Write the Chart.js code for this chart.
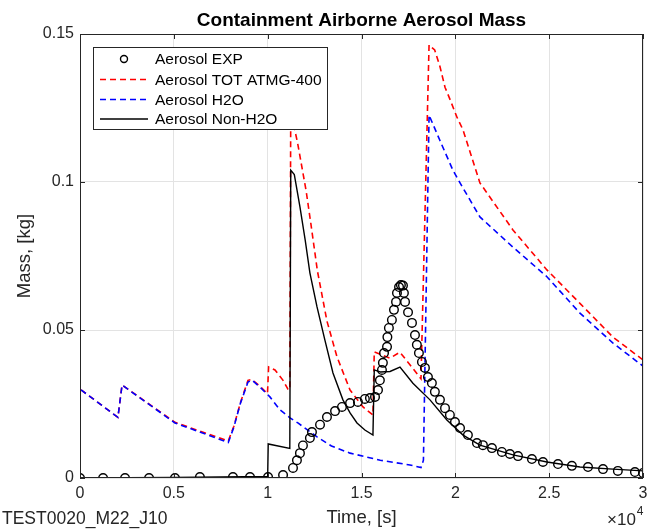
<!DOCTYPE html>
<html>
<head>
<meta charset="utf-8">
<title>Containment Airborne Aerosol Mass</title>
<script src="https://cdn.jsdelivr.net/npm/chart.js@4.4.1/dist/chart.umd.min.js"></script>
<style>
  html, body { margin: 0; padding: 0; background: #fff; }
</style>
</head>
<body>
<canvas id="chart" width="660" height="529"></canvas>
<script>
//-------------------Data-------------------
// time in s, mass in kg
const expTime = [0, 1230, 2400, 3680, 5060, 6390, 8150, 9060, 10020, 10820,
  11350, 11560, 11720, 11880, 12250, 12360, 12790, 13160, 13590, 13960,
  14390, 14810, 15180, 15450, 15720, 15880, 15980, 16090, 16140, 16200,
  16360, 16380, 16460, 16620, 16730, 16840, 16890, 17000, 17100, 17210,
  17260, 17320, 17480, 17690, 17850, 17950, 18060, 18220, 18380, 18540,
  18750, 18910, 19180, 19450, 19710, 19980, 20250, 20670, 21150, 21470,
  21950, 22480, 22910, 23340, 24080, 24670, 25470, 26210, 27070, 27870,
  28660, 29570, 30000];
const expMass = [0, 0, 0, 0, 0, 0.0003, 0.0003, 0.0003, 0.0003, 0.001,
  0.0034, 0.006, 0.0084, 0.011, 0.0135, 0.0155, 0.018, 0.0206, 0.0226, 0.024,
  0.0253, 0.0257, 0.0267, 0.027, 0.0274, 0.0297, 0.033, 0.0365, 0.0389, 0.0422,
  0.0443, 0.0476, 0.0507, 0.0534, 0.0568, 0.0595, 0.0625, 0.0645, 0.0652, 0.065,
  0.0625, 0.0595, 0.056, 0.0524, 0.0483, 0.045, 0.0422, 0.0392, 0.0372, 0.0341,
  0.0321, 0.0291, 0.0264, 0.0236, 0.0213, 0.0189, 0.0169, 0.0145, 0.0118, 0.0111,
  0.0101, 0.0088, 0.0081, 0.0074, 0.0064, 0.0054, 0.0047, 0.0041, 0.0037, 0.003,
  0.0024, 0.002, 0.0017];

const totTime = [0, 5, 2020, 2240, 5060, 7900, 8200, 8550, 8950, 9160,
  9590, 9990, 10050, 10390, 10820, 11080, 11180, 11230, 11600, 12050,
  12300, 12650, 13160, 13690, 14390, 15080, 15610, 15680, 16520, 17050,
  17740, 18170, 18600, 18900, 19180, 19450, 19710, 20080, 20410, 21310,
  23070, 24880, 26640, 28400, 30000];
const totMass = [0, 0.03, 0.0205, 0.0314, 0.0188, 0.0125, 0.0175, 0.0255, 0.033, 0.0333,
  0.031, 0.0285, 0.0375, 0.0365, 0.033, 0.03, 0.0298, 0.124, 0.113, 0.097,
  0.086, 0.07, 0.053, 0.041, 0.0297, 0.024, 0.0213, 0.0426, 0.0405, 0.0425,
  0.037, 0.0335, 0.1463, 0.1446, 0.139, 0.132, 0.128, 0.122, 0.1176, 0.0997,
  0.0838, 0.0703, 0.059, 0.0476, 0.0399];

const h2oTime = [0, 5, 2020, 2240, 5060, 7900, 8200, 8550, 8950, 9160,
  9590, 10120, 10660, 11190, 11610, 12630, 13400, 14390, 16000, 17580,
  18170, 18300, 18600, 19180, 19870, 20250, 21310, 23070, 24880, 26640,
  28400, 30000];
const h2oMass = [0, 0.03, 0.0205, 0.0314, 0.0186, 0.012, 0.0172, 0.0253, 0.0324, 0.0331,
  0.0307, 0.0274, 0.023, 0.0203, 0.0186, 0.0139, 0.0108, 0.0084, 0.006, 0.0044,
  0.0035, 0.006, 0.1226, 0.114, 0.104, 0.0997, 0.0882, 0.078, 0.068, 0.0557,
  0.0456, 0.0378];

const nonTime = [0, 5000, 10000, 10030, 11180, 11230, 11420, 11720, 12000, 12250,
  12630, 13050, 13480, 14010, 14390, 14760, 15180, 15610, 15680, 16000,
  16520, 17050, 17740, 18650, 19550, 20410, 21310, 23070, 24880, 26640,
  28400, 30000];
const nonMass = [0, 0.0002, 0.0005, 0.0115, 0.01, 0.104, 0.1025, 0.0916, 0.0804, 0.0693,
  0.0578, 0.0466, 0.0355, 0.0264, 0.022, 0.0186, 0.0162, 0.0145, 0.0365, 0.0358,
  0.036, 0.0375, 0.032, 0.0264, 0.0196, 0.0145, 0.0111, 0.0078, 0.0054, 0.0037,
  0.003, 0.0024];

const xTicks = [0, 5000, 10000, 15000, 20000, 25000, 30000];
const xTickLabels = ['0', '0.5', '1', '1.5', '2', '2.5', '3'];
const yTicks = [0, 0.05, 0.1, 0.15];
const yTickLabels = ['0', '0.05', '0.1', '0.15'];

const legendNames = ['Aerosol EXP', 'Aerosol TOT ATMG-400', 'Aerosol H2O', 'Aerosol Non-H2O'];

//-------------------Helpers-------------------
function pts(xs, ys) {
  return xs.map((x, i) => ({ x: x, y: ys[i] }));
}

const FONT = '"Liberation Sans", Arial, Helvetica, sans-serif';
const AXIS_COLOR = '#262626';

// box, inward ticks, title, legend and extra labels (MATLAB look)
const matlabDecor = {
  id: 'matlabDecor',
  afterDatasetsDraw(chart) {
    const ctx = chart.ctx;
    const a = chart.chartArea;
    const xs = chart.scales.x;
    const ys = chart.scales.y;
    ctx.save();

    // axes box
    ctx.strokeStyle = AXIS_COLOR;
    ctx.lineWidth = 1;
    ctx.strokeRect(a.left + 0.5, a.top + 0.5, a.right - a.left - 1, a.bottom - a.top - 1);

    // inward tick marks
    const tl = 5;
    ctx.beginPath();
    xTicks.forEach(v => {
      const px = Math.round(xs.getPixelForValue(v)) + 0.5;
      ctx.moveTo(px, a.bottom); ctx.lineTo(px, a.bottom - tl);
      ctx.moveTo(px, a.top); ctx.lineTo(px, a.top + tl);
    });
    yTicks.forEach(v => {
      const py = Math.round(ys.getPixelForValue(v)) + 0.5;
      ctx.moveTo(a.left, py); ctx.lineTo(a.left + tl, py);
      ctx.moveTo(a.right, py); ctx.lineTo(a.right - tl, py);
    });
    ctx.stroke();

    // legend
    const lx = 93.5, ly = 47.5, lw = 234, lh = 82;
    ctx.fillStyle = '#fff';
    ctx.fillRect(lx, ly, lw, lh);
    ctx.strokeStyle = AXIS_COLOR;
    ctx.strokeRect(lx, ly, lw, lh);
    const rows = [59, 79.5, 99.5, 119];
    ctx.font = '15.5px ' + FONT;
    ctx.textBaseline = 'middle';
    ctx.textAlign = 'left';
    chart.data.datasets.forEach((ds, i) => {
      const y = rows[i];
      if (ds.showLine === false) {
        ctx.beginPath();
        ctx.lineWidth = 1.4;
        ctx.strokeStyle = ds.borderColor;
        ctx.arc(124, y, 3.5, 0, Math.PI * 2);
        ctx.stroke();
      } else {
        ctx.beginPath();
        ctx.lineWidth = ds.borderWidth;
        ctx.strokeStyle = ds.borderColor;
        ctx.setLineDash(ds.borderDash || []);
        ctx.moveTo(100, y);
        ctx.lineTo(148, y);
        ctx.stroke();
        ctx.setLineDash([]);
      }
      ctx.fillStyle = '#000';
      ctx.fillText(legendNames[i], 155, y + 1);
    });

    // title
    ctx.font = 'bold 19px ' + FONT;
    ctx.textAlign = 'center';
    ctx.fillStyle = '#000';
    ctx.fillText('Containment Airborne Aerosol Mass', (a.left + a.right) / 2, 21);

    // run label and exponent
    ctx.font = '17.5px ' + FONT;
    ctx.textAlign = 'left';
    ctx.fillStyle = '#262626';
    ctx.fillText('TEST0020_M22_J10', 2, 519);
    ctx.font = '17px ' + FONT;
    const base = '\u00d710';
    const bx = 607;
    ctx.fillText(base, bx, 520);
    const bw = ctx.measureText(base).width;
    ctx.font = '12px ' + FONT;
    ctx.fillText('4', bx + bw + 1, 512);

    ctx.restore();
  }
};

//-------------------Chart-------------------
const ctx = document.getElementById('chart').getContext('2d');
const chart = new Chart(ctx, {
  type: 'line',
  data: {
    datasets: [
      {
        label: legendNames[0],
        data: pts(expTime, expMass),
        showLine: false,
        pointStyle: 'circle',
        pointRadius: 4.3,
        pointBorderWidth: 1.4,
        pointBackgroundColor: 'rgba(0,0,0,0)',
        borderColor: '#000',
        pointBorderColor: '#000',
        order: 0
      },
      {
        label: legendNames[1],
        data: pts(totTime, totMass),
        borderColor: '#ff0000',
        borderWidth: 1.6,
        borderDash: [6, 4],
        pointRadius: 0,
        tension: 0,
        order: 3
      },
      {
        label: legendNames[2],
        data: pts(h2oTime, h2oMass),
        borderColor: '#0000ff',
        borderWidth: 1.6,
        borderDash: [6, 4],
        pointRadius: 0,
        tension: 0,
        order: 2
      },
      {
        label: legendNames[3],
        data: pts(nonTime, nonMass),
        borderColor: '#000000',
        borderWidth: 1.4,
        pointRadius: 0,
        tension: 0,
        order: 1
      }
    ]
  },
  options: {
    responsive: false,
    animation: false,
    layout: { padding: { top: 34, right: 17, left: 0, bottom: 0 } },
    plugins: {
      legend: { display: false },
      tooltip: { enabled: false },
      title: { display: false }
    },
    scales: {
      x: {
        type: 'linear',
        min: 0,
        max: 30000,
        afterFit: s => { s.height = 51; },
        afterBuildTicks: s => { s.ticks = xTicks.map(v => ({ value: v })); },
        ticks: {
          padding: 6,
          maxRotation: 0,
          color: '#262626',
          font: { family: FONT, size: 16 },
          callback: v => xTickLabels[xTicks.indexOf(v)]
        },
        grid: { color: '#e3e3e3', drawTicks: false },
        border: { display: false },
        title: {
          display: true,
          text: 'Time, [s]',
          color: '#262626',
          font: { family: FONT, size: 18.5 },
          padding: { top: 0, bottom: 0 }
        }
      },
      y: {
        min: 0,
        max: 0.15,
        afterFit: s => { s.width = 80; },
        afterBuildTicks: s => { s.ticks = yTicks.map(v => ({ value: v })); },
        ticks: {
          padding: 6,
          color: '#262626',
          font: { family: FONT, size: 16 },
          callback: v => yTickLabels[yTicks.indexOf(v)]
        },
        grid: { color: '#e3e3e3', drawTicks: false },
        border: { display: false },
        title: {
          display: true,
          text: 'Mass, [kg]',
          color: '#262626',
          font: { family: FONT, size: 18.5 },
          padding: { top: 14, bottom: 0 }
        }
      }
    }
  },
  plugins: [matlabDecor]
});
</script>
</body>
</html>
